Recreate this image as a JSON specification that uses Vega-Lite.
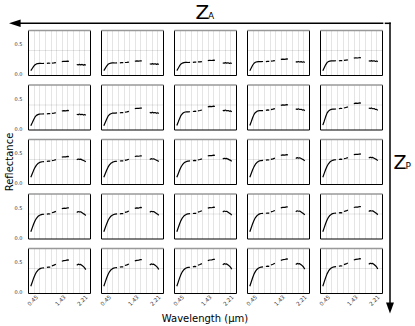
{
"$schema": "https://vega.github.io/schema/vega-lite/v6.json",
"padding": {"left": 4, "top": 3, "right": 2, "bottom": 2},
"spacing": 0,
"config": {
  "font": "DejaVu Sans",
  "view": {"stroke": null},
  "axis": {"labelColor": "#333", "titleColor": "black", "titleFontWeight": "normal"},
  "header": {"titleFontWeight": "normal", "titleFontSize": 10, "titleColor": "black"}
},
"hconcat": [
{
"spacing": 0,
"vconcat": [
{
  "width": 354.6, "height": 26.5,
  "layer": [
    {"data": {"values": [{"x0": -0.0353, "x1": 1.0, "y": 0.234}]},
     "mark": {"type": "rule", "strokeWidth": 1.5, "color": "black", "strokeCap": "square"},
     "encoding": {"x": {"field": "x0", "type": "quantitative", "scale": {"domain": [0, 1]}, "axis": null},
                  "x2": {"field": "x1"},
                  "y": {"field": "y", "type": "quantitative", "scale": {"domain": [0, 1]}, "axis": null}}},
    {"data": {"values": [{"x": -0.0372, "y": 0.234}]},
     "mark": {"type": "point", "shape": "M1,-0.65L1,0.65L-1,0Z", "filled": true, "color": "black", "size": 134, "opacity": 1, "strokeWidth": 0},
     "encoding": {"x": {"field": "x", "type": "quantitative"}, "y": {"field": "y", "type": "quantitative"}}},
    {"data": {"values": [{"x": 0.4724, "y": 0.396, "t": "Z"}]},
     "mark": {"type": "text", "fontSize": 20, "align": "left", "baseline": "alphabetic", "color": "black"},
     "encoding": {"x": {"field": "x", "type": "quantitative"}, "y": {"field": "y", "type": "quantitative"}, "text": {"field": "t"}}},
    {"data": {"values": [{"x": 0.5075, "y": 0.396, "t": "A"}]},
     "mark": {"type": "text", "fontSize": 9, "align": "left", "baseline": "alphabetic", "color": "black"},
     "encoding": {"x": {"field": "x", "type": "quantitative"}, "y": {"field": "y", "type": "quantitative"}, "text": {"field": "t"}}}
  ]
},
{
  "data": {"values": [
{"r":1,"c":1,"s":1,"w":0.4,"v":0.05},{"r":1,"c":1,"s":1,"w":0.45,"v":0.086},{"r":1,"c":1,"s":1,"w":0.5,"v":0.122},{"r":1,"c":1,"s":1,"w":0.55,"v":0.148},{"r":1,"c":1,"s":1,"w":0.6,"v":0.162},{"r":1,"c":1,"s":1,"w":0.65,"v":0.168},{"r":1,"c":1,"s":1,"w":0.7,"v":0.17},{"r":1,"c":1,"s":1,"w":0.75,"v":0.17},{"r":1,"c":1,"s":1,"w":0.8,"v":0.169},{"r":1,"c":1,"s":1,"w":0.87,"v":0.171},
{"r":1,"c":1,"s":2,"w":0.97,"v":0.172},{"r":1,"c":1,"s":2,"w":1.03,"v":0.175},{"r":1,"c":1,"s":2,"w":1.09,"v":0.173},
{"r":1,"c":1,"s":3,"w":1.15,"v":0.176},{"r":1,"c":1,"s":3,"w":1.22,"v":0.179},{"r":1,"c":1,"s":3,"w":1.29,"v":0.183},
{"r":1,"c":1,"s":4,"w":1.5,"v":0.201},{"r":1,"c":1,"s":4,"w":1.57,"v":0.206},{"r":1,"c":1,"s":4,"w":1.64,"v":0.203},{"r":1,"c":1,"s":4,"w":1.71,"v":0.208},{"r":1,"c":1,"s":4,"w":1.75,"v":0.205},
{"r":1,"c":1,"s":5,"w":2.03,"v":0.152},{"r":1,"c":1,"s":5,"w":2.08,"v":0.145},{"r":1,"c":1,"s":5,"w":2.12,"v":0.155},{"r":1,"c":1,"s":5,"w":2.17,"v":0.146},{"r":1,"c":1,"s":5,"w":2.22,"v":0.153},{"r":1,"c":1,"s":5,"w":2.27,"v":0.142},{"r":1,"c":1,"s":5,"w":2.31,"v":0.15},{"r":1,"c":1,"s":5,"w":2.35,"v":0.14},

{"r":1,"c":2,"s":1,"w":0.4,"v":0.05},{"r":1,"c":2,"s":1,"w":0.45,"v":0.088},{"r":1,"c":2,"s":1,"w":0.5,"v":0.127},{"r":1,"c":2,"s":1,"w":0.55,"v":0.155},{"r":1,"c":2,"s":1,"w":0.6,"v":0.169},{"r":1,"c":2,"s":1,"w":0.65,"v":0.175},{"r":1,"c":2,"s":1,"w":0.7,"v":0.178},{"r":1,"c":2,"s":1,"w":0.75,"v":0.178},{"r":1,"c":2,"s":1,"w":0.8,"v":0.177},{"r":1,"c":2,"s":1,"w":0.87,"v":0.18},
{"r":1,"c":2,"s":2,"w":0.97,"v":0.18},{"r":1,"c":2,"s":2,"w":1.03,"v":0.184},{"r":1,"c":2,"s":2,"w":1.09,"v":0.182},
{"r":1,"c":2,"s":3,"w":1.15,"v":0.185},{"r":1,"c":2,"s":3,"w":1.22,"v":0.188},{"r":1,"c":2,"s":3,"w":1.29,"v":0.192},
{"r":1,"c":2,"s":4,"w":1.5,"v":0.206},{"r":1,"c":2,"s":4,"w":1.57,"v":0.212},{"r":1,"c":2,"s":4,"w":1.64,"v":0.208},{"r":1,"c":2,"s":4,"w":1.71,"v":0.214},{"r":1,"c":2,"s":4,"w":1.75,"v":0.21},
{"r":1,"c":2,"s":5,"w":2.03,"v":0.164},{"r":1,"c":2,"s":5,"w":2.08,"v":0.157},{"r":1,"c":2,"s":5,"w":2.12,"v":0.167},{"r":1,"c":2,"s":5,"w":2.17,"v":0.158},{"r":1,"c":2,"s":5,"w":2.22,"v":0.165},{"r":1,"c":2,"s":5,"w":2.27,"v":0.154},{"r":1,"c":2,"s":5,"w":2.31,"v":0.162},{"r":1,"c":2,"s":5,"w":2.35,"v":0.152},

{"r":1,"c":3,"s":1,"w":0.4,"v":0.05},{"r":1,"c":3,"s":1,"w":0.45,"v":0.091},{"r":1,"c":3,"s":1,"w":0.5,"v":0.132},{"r":1,"c":3,"s":1,"w":0.55,"v":0.162},{"r":1,"c":3,"s":1,"w":0.6,"v":0.176},{"r":1,"c":3,"s":1,"w":0.65,"v":0.183},{"r":1,"c":3,"s":1,"w":0.7,"v":0.186},{"r":1,"c":3,"s":1,"w":0.75,"v":0.186},{"r":1,"c":3,"s":1,"w":0.8,"v":0.185},{"r":1,"c":3,"s":1,"w":0.87,"v":0.188},
{"r":1,"c":3,"s":2,"w":0.97,"v":0.188},{"r":1,"c":3,"s":2,"w":1.03,"v":0.192},{"r":1,"c":3,"s":2,"w":1.09,"v":0.19},
{"r":1,"c":3,"s":3,"w":1.15,"v":0.194},{"r":1,"c":3,"s":3,"w":1.22,"v":0.197},{"r":1,"c":3,"s":3,"w":1.29,"v":0.201},
{"r":1,"c":3,"s":4,"w":1.5,"v":0.216},{"r":1,"c":3,"s":4,"w":1.57,"v":0.222},{"r":1,"c":3,"s":4,"w":1.64,"v":0.218},{"r":1,"c":3,"s":4,"w":1.71,"v":0.224},{"r":1,"c":3,"s":4,"w":1.75,"v":0.22},
{"r":1,"c":3,"s":5,"w":2.03,"v":0.18},{"r":1,"c":3,"s":5,"w":2.08,"v":0.173},{"r":1,"c":3,"s":5,"w":2.12,"v":0.183},{"r":1,"c":3,"s":5,"w":2.17,"v":0.174},{"r":1,"c":3,"s":5,"w":2.22,"v":0.181},{"r":1,"c":3,"s":5,"w":2.27,"v":0.17},{"r":1,"c":3,"s":5,"w":2.31,"v":0.178},{"r":1,"c":3,"s":5,"w":2.35,"v":0.168},

{"r":1,"c":4,"s":1,"w":0.4,"v":0.05},{"r":1,"c":4,"s":1,"w":0.45,"v":0.095},{"r":1,"c":4,"s":1,"w":0.5,"v":0.14},{"r":1,"c":4,"s":1,"w":0.55,"v":0.173},{"r":1,"c":4,"s":1,"w":0.6,"v":0.19},{"r":1,"c":4,"s":1,"w":0.65,"v":0.197},{"r":1,"c":4,"s":1,"w":0.7,"v":0.2},{"r":1,"c":4,"s":1,"w":0.75,"v":0.2},{"r":1,"c":4,"s":1,"w":0.8,"v":0.199},{"r":1,"c":4,"s":1,"w":0.87,"v":0.202},
{"r":1,"c":4,"s":2,"w":0.97,"v":0.2},{"r":1,"c":4,"s":2,"w":1.03,"v":0.205},{"r":1,"c":4,"s":2,"w":1.09,"v":0.203},
{"r":1,"c":4,"s":3,"w":1.15,"v":0.207},{"r":1,"c":4,"s":3,"w":1.22,"v":0.211},{"r":1,"c":4,"s":3,"w":1.29,"v":0.216},
{"r":1,"c":4,"s":4,"w":1.5,"v":0.236},{"r":1,"c":4,"s":4,"w":1.57,"v":0.242},{"r":1,"c":4,"s":4,"w":1.64,"v":0.238},{"r":1,"c":4,"s":4,"w":1.71,"v":0.245},{"r":1,"c":4,"s":4,"w":1.75,"v":0.24},
{"r":1,"c":4,"s":5,"w":2.03,"v":0.2},{"r":1,"c":4,"s":5,"w":2.08,"v":0.192},{"r":1,"c":4,"s":5,"w":2.12,"v":0.202},{"r":1,"c":4,"s":5,"w":2.17,"v":0.193},{"r":1,"c":4,"s":5,"w":2.22,"v":0.2},{"r":1,"c":4,"s":5,"w":2.27,"v":0.189},{"r":1,"c":4,"s":5,"w":2.31,"v":0.197},{"r":1,"c":4,"s":5,"w":2.35,"v":0.186},

{"r":1,"c":5,"s":1,"w":0.4,"v":0.05},{"r":1,"c":5,"s":1,"w":0.45,"v":0.099},{"r":1,"c":5,"s":1,"w":0.5,"v":0.147},{"r":1,"c":5,"s":1,"w":0.55,"v":0.183},{"r":1,"c":5,"s":1,"w":0.6,"v":0.201},{"r":1,"c":5,"s":1,"w":0.65,"v":0.209},{"r":1,"c":5,"s":1,"w":0.7,"v":0.212},{"r":1,"c":5,"s":1,"w":0.75,"v":0.212},{"r":1,"c":5,"s":1,"w":0.8,"v":0.211},{"r":1,"c":5,"s":1,"w":0.87,"v":0.214},
{"r":1,"c":5,"s":2,"w":0.97,"v":0.213},{"r":1,"c":5,"s":2,"w":1.03,"v":0.218},{"r":1,"c":5,"s":2,"w":1.09,"v":0.216},
{"r":1,"c":5,"s":3,"w":1.15,"v":0.22},{"r":1,"c":5,"s":3,"w":1.22,"v":0.225},{"r":1,"c":5,"s":3,"w":1.29,"v":0.23},
{"r":1,"c":5,"s":4,"w":1.5,"v":0.257},{"r":1,"c":5,"s":4,"w":1.57,"v":0.264},{"r":1,"c":5,"s":4,"w":1.64,"v":0.26},{"r":1,"c":5,"s":4,"w":1.71,"v":0.268},{"r":1,"c":5,"s":4,"w":1.75,"v":0.262},
{"r":1,"c":5,"s":5,"w":2.03,"v":0.215},{"r":1,"c":5,"s":5,"w":2.08,"v":0.207},{"r":1,"c":5,"s":5,"w":2.12,"v":0.217},{"r":1,"c":5,"s":5,"w":2.17,"v":0.208},{"r":1,"c":5,"s":5,"w":2.22,"v":0.215},{"r":1,"c":5,"s":5,"w":2.27,"v":0.203},{"r":1,"c":5,"s":5,"w":2.31,"v":0.211},{"r":1,"c":5,"s":5,"w":2.35,"v":0.2},

{"r":2,"c":1,"s":1,"w":0.4,"v":0.04},{"r":2,"c":1,"s":1,"w":0.45,"v":0.089},{"r":2,"c":1,"s":1,"w":0.5,"v":0.141},{"r":2,"c":1,"s":1,"w":0.55,"v":0.186},{"r":2,"c":1,"s":1,"w":0.6,"v":0.212},{"r":2,"c":1,"s":1,"w":0.65,"v":0.225},{"r":2,"c":1,"s":1,"w":0.7,"v":0.233},{"r":2,"c":1,"s":1,"w":0.75,"v":0.235},{"r":2,"c":1,"s":1,"w":0.8,"v":0.235},{"r":2,"c":1,"s":1,"w":0.87,"v":0.237},
{"r":2,"c":1,"s":2,"w":0.97,"v":0.238},{"r":2,"c":1,"s":2,"w":1.03,"v":0.242},{"r":2,"c":1,"s":2,"w":1.09,"v":0.24},
{"r":2,"c":1,"s":3,"w":1.15,"v":0.245},{"r":2,"c":1,"s":3,"w":1.22,"v":0.25},{"r":2,"c":1,"s":3,"w":1.29,"v":0.256},
{"r":2,"c":1,"s":4,"w":1.5,"v":0.285},{"r":2,"c":1,"s":4,"w":1.57,"v":0.29},{"r":2,"c":1,"s":4,"w":1.64,"v":0.288},{"r":2,"c":1,"s":4,"w":1.71,"v":0.294},{"r":2,"c":1,"s":4,"w":1.75,"v":0.291},
{"r":2,"c":1,"s":5,"w":2.03,"v":0.232},{"r":2,"c":1,"s":5,"w":2.08,"v":0.222},{"r":2,"c":1,"s":5,"w":2.12,"v":0.234},{"r":2,"c":1,"s":5,"w":2.17,"v":0.224},{"r":2,"c":1,"s":5,"w":2.22,"v":0.23},{"r":2,"c":1,"s":5,"w":2.27,"v":0.218},{"r":2,"c":1,"s":5,"w":2.31,"v":0.226},{"r":2,"c":1,"s":5,"w":2.35,"v":0.214},

{"r":2,"c":2,"s":1,"w":0.4,"v":0.04},{"r":2,"c":2,"s":1,"w":0.45,"v":0.093},{"r":2,"c":2,"s":1,"w":0.5,"v":0.149},{"r":2,"c":2,"s":1,"w":0.55,"v":0.198},{"r":2,"c":2,"s":1,"w":0.6,"v":0.225},{"r":2,"c":2,"s":1,"w":0.65,"v":0.24},{"r":2,"c":2,"s":1,"w":0.7,"v":0.248},{"r":2,"c":2,"s":1,"w":0.75,"v":0.25},{"r":2,"c":2,"s":1,"w":0.8,"v":0.25},{"r":2,"c":2,"s":1,"w":0.87,"v":0.252},
{"r":2,"c":2,"s":2,"w":0.97,"v":0.255},{"r":2,"c":2,"s":2,"w":1.03,"v":0.26},{"r":2,"c":2,"s":2,"w":1.09,"v":0.258},
{"r":2,"c":2,"s":3,"w":1.15,"v":0.264},{"r":2,"c":2,"s":3,"w":1.22,"v":0.27},{"r":2,"c":2,"s":3,"w":1.29,"v":0.278},
{"r":2,"c":2,"s":4,"w":1.5,"v":0.324},{"r":2,"c":2,"s":4,"w":1.57,"v":0.33},{"r":2,"c":2,"s":4,"w":1.64,"v":0.327},{"r":2,"c":2,"s":4,"w":1.71,"v":0.335},{"r":2,"c":2,"s":4,"w":1.75,"v":0.331},
{"r":2,"c":2,"s":5,"w":2.03,"v":0.262},{"r":2,"c":2,"s":5,"w":2.08,"v":0.252},{"r":2,"c":2,"s":5,"w":2.12,"v":0.265},{"r":2,"c":2,"s":5,"w":2.17,"v":0.254},{"r":2,"c":2,"s":5,"w":2.22,"v":0.26},{"r":2,"c":2,"s":5,"w":2.27,"v":0.247},{"r":2,"c":2,"s":5,"w":2.31,"v":0.255},{"r":2,"c":2,"s":5,"w":2.35,"v":0.242},

{"r":2,"c":3,"s":1,"w":0.4,"v":0.045},{"r":2,"c":3,"s":1,"w":0.45,"v":0.101},{"r":2,"c":3,"s":1,"w":0.5,"v":0.162},{"r":2,"c":3,"s":1,"w":0.55,"v":0.214},{"r":2,"c":3,"s":1,"w":0.6,"v":0.243},{"r":2,"c":3,"s":1,"w":0.65,"v":0.259},{"r":2,"c":3,"s":1,"w":0.7,"v":0.268},{"r":2,"c":3,"s":1,"w":0.75,"v":0.27},{"r":2,"c":3,"s":1,"w":0.8,"v":0.27},{"r":2,"c":3,"s":1,"w":0.87,"v":0.272},
{"r":2,"c":3,"s":2,"w":0.97,"v":0.276},{"r":2,"c":3,"s":2,"w":1.03,"v":0.281},{"r":2,"c":3,"s":2,"w":1.09,"v":0.279},
{"r":2,"c":3,"s":3,"w":1.15,"v":0.286},{"r":2,"c":3,"s":3,"w":1.22,"v":0.293},{"r":2,"c":3,"s":3,"w":1.29,"v":0.301},
{"r":2,"c":3,"s":4,"w":1.5,"v":0.354},{"r":2,"c":3,"s":4,"w":1.57,"v":0.36},{"r":2,"c":3,"s":4,"w":1.64,"v":0.357},{"r":2,"c":3,"s":4,"w":1.71,"v":0.365},{"r":2,"c":3,"s":4,"w":1.75,"v":0.36},
{"r":2,"c":3,"s":5,"w":2.03,"v":0.298},{"r":2,"c":3,"s":5,"w":2.08,"v":0.287},{"r":2,"c":3,"s":5,"w":2.12,"v":0.3},{"r":2,"c":3,"s":5,"w":2.17,"v":0.288},{"r":2,"c":3,"s":5,"w":2.22,"v":0.293},{"r":2,"c":3,"s":5,"w":2.27,"v":0.28},{"r":2,"c":3,"s":5,"w":2.31,"v":0.286},{"r":2,"c":3,"s":5,"w":2.35,"v":0.272},

{"r":2,"c":4,"s":1,"w":0.4,"v":0.045},{"r":2,"c":4,"s":1,"w":0.45,"v":0.106},{"r":2,"c":4,"s":1,"w":0.5,"v":0.172},{"r":2,"c":4,"s":1,"w":0.55,"v":0.229},{"r":2,"c":4,"s":1,"w":0.6,"v":0.261},{"r":2,"c":4,"s":1,"w":0.65,"v":0.278},{"r":2,"c":4,"s":1,"w":0.7,"v":0.288},{"r":2,"c":4,"s":1,"w":0.75,"v":0.29},{"r":2,"c":4,"s":1,"w":0.8,"v":0.29},{"r":2,"c":4,"s":1,"w":0.87,"v":0.292},
{"r":2,"c":4,"s":2,"w":0.97,"v":0.296},{"r":2,"c":4,"s":2,"w":1.03,"v":0.302},{"r":2,"c":4,"s":2,"w":1.09,"v":0.3},
{"r":2,"c":4,"s":3,"w":1.15,"v":0.307},{"r":2,"c":4,"s":3,"w":1.22,"v":0.315},{"r":2,"c":4,"s":3,"w":1.29,"v":0.324},
{"r":2,"c":4,"s":4,"w":1.5,"v":0.378},{"r":2,"c":4,"s":4,"w":1.57,"v":0.385},{"r":2,"c":4,"s":4,"w":1.64,"v":0.382},{"r":2,"c":4,"s":4,"w":1.71,"v":0.39},{"r":2,"c":4,"s":4,"w":1.75,"v":0.386},
{"r":2,"c":4,"s":5,"w":2.03,"v":0.32},{"r":2,"c":4,"s":5,"w":2.08,"v":0.31},{"r":2,"c":4,"s":5,"w":2.12,"v":0.322},{"r":2,"c":4,"s":5,"w":2.17,"v":0.31},{"r":2,"c":4,"s":5,"w":2.22,"v":0.314},{"r":2,"c":4,"s":5,"w":2.27,"v":0.3},{"r":2,"c":4,"s":5,"w":2.31,"v":0.305},{"r":2,"c":4,"s":5,"w":2.35,"v":0.29},

{"r":2,"c":5,"s":1,"w":0.4,"v":0.05},{"r":2,"c":5,"s":1,"w":0.45,"v":0.116},{"r":2,"c":5,"s":1,"w":0.5,"v":0.188},{"r":2,"c":5,"s":1,"w":0.55,"v":0.249},{"r":2,"c":5,"s":1,"w":0.6,"v":0.283},{"r":2,"c":5,"s":1,"w":0.65,"v":0.302},{"r":2,"c":5,"s":1,"w":0.7,"v":0.312},{"r":2,"c":5,"s":1,"w":0.75,"v":0.315},{"r":2,"c":5,"s":1,"w":0.8,"v":0.315},{"r":2,"c":5,"s":1,"w":0.87,"v":0.318},
{"r":2,"c":5,"s":2,"w":0.97,"v":0.322},{"r":2,"c":5,"s":2,"w":1.03,"v":0.328},{"r":2,"c":5,"s":2,"w":1.09,"v":0.326},
{"r":2,"c":5,"s":3,"w":1.15,"v":0.334},{"r":2,"c":5,"s":3,"w":1.22,"v":0.343},{"r":2,"c":5,"s":3,"w":1.29,"v":0.352},
{"r":2,"c":5,"s":4,"w":1.5,"v":0.408},{"r":2,"c":5,"s":4,"w":1.57,"v":0.415},{"r":2,"c":5,"s":4,"w":1.64,"v":0.412},{"r":2,"c":5,"s":4,"w":1.71,"v":0.42},{"r":2,"c":5,"s":4,"w":1.75,"v":0.416},
{"r":2,"c":5,"s":5,"w":2.03,"v":0.335},{"r":2,"c":5,"s":5,"w":2.08,"v":0.325},{"r":2,"c":5,"s":5,"w":2.12,"v":0.336},{"r":2,"c":5,"s":5,"w":2.17,"v":0.322},{"r":2,"c":5,"s":5,"w":2.22,"v":0.325},{"r":2,"c":5,"s":5,"w":2.27,"v":0.31},{"r":2,"c":5,"s":5,"w":2.31,"v":0.312},{"r":2,"c":5,"s":5,"w":2.35,"v":0.295},

{"r":3,"c":1,"s":1,"w":0.4,"v":0.09},{"r":3,"c":1,"s":1,"w":0.45,"v":0.147},{"r":3,"c":1,"s":1,"w":0.5,"v":0.204},{"r":3,"c":1,"s":1,"w":0.55,"v":0.254},{"r":3,"c":1,"s":1,"w":0.6,"v":0.29},{"r":3,"c":1,"s":1,"w":0.65,"v":0.316},{"r":3,"c":1,"s":1,"w":0.7,"v":0.332},{"r":3,"c":1,"s":1,"w":0.75,"v":0.342},{"r":3,"c":1,"s":1,"w":0.8,"v":0.347},{"r":3,"c":1,"s":1,"w":0.87,"v":0.35},
{"r":3,"c":1,"s":2,"w":0.97,"v":0.354},{"r":3,"c":1,"s":2,"w":1.03,"v":0.358},{"r":3,"c":1,"s":2,"w":1.09,"v":0.356},
{"r":3,"c":1,"s":3,"w":1.15,"v":0.365},{"r":3,"c":1,"s":3,"w":1.22,"v":0.372},{"r":3,"c":1,"s":3,"w":1.29,"v":0.382},
{"r":3,"c":1,"s":4,"w":1.5,"v":0.424},{"r":3,"c":1,"s":4,"w":1.57,"v":0.43},{"r":3,"c":1,"s":4,"w":1.64,"v":0.428},{"r":3,"c":1,"s":4,"w":1.71,"v":0.436},{"r":3,"c":1,"s":4,"w":1.75,"v":0.432},
{"r":3,"c":1,"s":5,"w":2.03,"v":0.38},{"r":3,"c":1,"s":5,"w":2.08,"v":0.392},{"r":3,"c":1,"s":5,"w":2.12,"v":0.386},{"r":3,"c":1,"s":5,"w":2.17,"v":0.39},{"r":3,"c":1,"s":5,"w":2.22,"v":0.378},{"r":3,"c":1,"s":5,"w":2.27,"v":0.368},{"r":3,"c":1,"s":5,"w":2.31,"v":0.36},{"r":3,"c":1,"s":5,"w":2.35,"v":0.345},

{"r":3,"c":2,"s":1,"w":0.4,"v":0.09},{"r":3,"c":2,"s":1,"w":0.45,"v":0.148},{"r":3,"c":2,"s":1,"w":0.5,"v":0.207},{"r":3,"c":2,"s":1,"w":0.55,"v":0.257},{"r":3,"c":2,"s":1,"w":0.6,"v":0.294},{"r":3,"c":2,"s":1,"w":0.65,"v":0.321},{"r":3,"c":2,"s":1,"w":0.7,"v":0.336},{"r":3,"c":2,"s":1,"w":0.75,"v":0.347},{"r":3,"c":2,"s":1,"w":0.8,"v":0.352},{"r":3,"c":2,"s":1,"w":0.87,"v":0.355},
{"r":3,"c":2,"s":2,"w":0.97,"v":0.359},{"r":3,"c":2,"s":2,"w":1.03,"v":0.363},{"r":3,"c":2,"s":2,"w":1.09,"v":0.361},
{"r":3,"c":2,"s":3,"w":1.15,"v":0.37},{"r":3,"c":2,"s":3,"w":1.22,"v":0.378},{"r":3,"c":2,"s":3,"w":1.29,"v":0.389},
{"r":3,"c":2,"s":4,"w":1.5,"v":0.434},{"r":3,"c":2,"s":4,"w":1.57,"v":0.44},{"r":3,"c":2,"s":4,"w":1.64,"v":0.438},{"r":3,"c":2,"s":4,"w":1.71,"v":0.446},{"r":3,"c":2,"s":4,"w":1.75,"v":0.442},
{"r":3,"c":2,"s":5,"w":2.03,"v":0.385},{"r":3,"c":2,"s":5,"w":2.08,"v":0.398},{"r":3,"c":2,"s":5,"w":2.12,"v":0.392},{"r":3,"c":2,"s":5,"w":2.17,"v":0.396},{"r":3,"c":2,"s":5,"w":2.22,"v":0.384},{"r":3,"c":2,"s":5,"w":2.27,"v":0.373},{"r":3,"c":2,"s":5,"w":2.31,"v":0.364},{"r":3,"c":2,"s":5,"w":2.35,"v":0.35},

{"r":3,"c":3,"s":1,"w":0.4,"v":0.09},{"r":3,"c":3,"s":1,"w":0.45,"v":0.149},{"r":3,"c":3,"s":1,"w":0.5,"v":0.209},{"r":3,"c":3,"s":1,"w":0.55,"v":0.26},{"r":3,"c":3,"s":1,"w":0.6,"v":0.298},{"r":3,"c":3,"s":1,"w":0.65,"v":0.325},{"r":3,"c":3,"s":1,"w":0.7,"v":0.341},{"r":3,"c":3,"s":1,"w":0.75,"v":0.352},{"r":3,"c":3,"s":1,"w":0.8,"v":0.357},{"r":3,"c":3,"s":1,"w":0.87,"v":0.36},
{"r":3,"c":3,"s":2,"w":0.97,"v":0.364},{"r":3,"c":3,"s":2,"w":1.03,"v":0.369},{"r":3,"c":3,"s":2,"w":1.09,"v":0.366},
{"r":3,"c":3,"s":3,"w":1.15,"v":0.376},{"r":3,"c":3,"s":3,"w":1.22,"v":0.384},{"r":3,"c":3,"s":3,"w":1.29,"v":0.395},
{"r":3,"c":3,"s":4,"w":1.5,"v":0.444},{"r":3,"c":3,"s":4,"w":1.57,"v":0.45},{"r":3,"c":3,"s":4,"w":1.64,"v":0.448},{"r":3,"c":3,"s":4,"w":1.71,"v":0.456},{"r":3,"c":3,"s":4,"w":1.75,"v":0.452},
{"r":3,"c":3,"s":5,"w":2.03,"v":0.392},{"r":3,"c":3,"s":5,"w":2.08,"v":0.405},{"r":3,"c":3,"s":5,"w":2.12,"v":0.398},{"r":3,"c":3,"s":5,"w":2.17,"v":0.402},{"r":3,"c":3,"s":5,"w":2.22,"v":0.39},{"r":3,"c":3,"s":5,"w":2.27,"v":0.378},{"r":3,"c":3,"s":5,"w":2.31,"v":0.369},{"r":3,"c":3,"s":5,"w":2.35,"v":0.354},

{"r":3,"c":4,"s":1,"w":0.4,"v":0.09},{"r":3,"c":4,"s":1,"w":0.45,"v":0.152},{"r":3,"c":4,"s":1,"w":0.5,"v":0.213},{"r":3,"c":4,"s":1,"w":0.55,"v":0.266},{"r":3,"c":4,"s":1,"w":0.6,"v":0.306},{"r":3,"c":4,"s":1,"w":0.65,"v":0.334},{"r":3,"c":4,"s":1,"w":0.7,"v":0.35},{"r":3,"c":4,"s":1,"w":0.75,"v":0.362},{"r":3,"c":4,"s":1,"w":0.8,"v":0.367},{"r":3,"c":4,"s":1,"w":0.87,"v":0.37},
{"r":3,"c":4,"s":2,"w":0.97,"v":0.374},{"r":3,"c":4,"s":2,"w":1.03,"v":0.379},{"r":3,"c":4,"s":2,"w":1.09,"v":0.376},
{"r":3,"c":4,"s":3,"w":1.15,"v":0.386},{"r":3,"c":4,"s":3,"w":1.22,"v":0.395},{"r":3,"c":4,"s":3,"w":1.29,"v":0.406},
{"r":3,"c":4,"s":4,"w":1.5,"v":0.454},{"r":3,"c":4,"s":4,"w":1.57,"v":0.46},{"r":3,"c":4,"s":4,"w":1.64,"v":0.458},{"r":3,"c":4,"s":4,"w":1.71,"v":0.466},{"r":3,"c":4,"s":4,"w":1.75,"v":0.462},
{"r":3,"c":4,"s":5,"w":2.03,"v":0.402},{"r":3,"c":4,"s":5,"w":2.08,"v":0.415},{"r":3,"c":4,"s":5,"w":2.12,"v":0.408},{"r":3,"c":4,"s":5,"w":2.17,"v":0.412},{"r":3,"c":4,"s":5,"w":2.22,"v":0.4},{"r":3,"c":4,"s":5,"w":2.27,"v":0.388},{"r":3,"c":4,"s":5,"w":2.31,"v":0.378},{"r":3,"c":4,"s":5,"w":2.35,"v":0.362},

{"r":3,"c":5,"s":1,"w":0.4,"v":0.09},{"r":3,"c":5,"s":1,"w":0.45,"v":0.154},{"r":3,"c":5,"s":1,"w":0.5,"v":0.218},{"r":3,"c":5,"s":1,"w":0.55,"v":0.273},{"r":3,"c":5,"s":1,"w":0.6,"v":0.313},{"r":3,"c":5,"s":1,"w":0.65,"v":0.342},{"r":3,"c":5,"s":1,"w":0.7,"v":0.36},{"r":3,"c":5,"s":1,"w":0.75,"v":0.371},{"r":3,"c":5,"s":1,"w":0.8,"v":0.377},{"r":3,"c":5,"s":1,"w":0.87,"v":0.38},
{"r":3,"c":5,"s":2,"w":0.97,"v":0.384},{"r":3,"c":5,"s":2,"w":1.03,"v":0.389},{"r":3,"c":5,"s":2,"w":1.09,"v":0.386},
{"r":3,"c":5,"s":3,"w":1.15,"v":0.396},{"r":3,"c":5,"s":3,"w":1.22,"v":0.405},{"r":3,"c":5,"s":3,"w":1.29,"v":0.416},
{"r":3,"c":5,"s":4,"w":1.5,"v":0.464},{"r":3,"c":5,"s":4,"w":1.57,"v":0.47},{"r":3,"c":5,"s":4,"w":1.64,"v":0.468},{"r":3,"c":5,"s":4,"w":1.71,"v":0.476},{"r":3,"c":5,"s":4,"w":1.75,"v":0.472},
{"r":3,"c":5,"s":5,"w":2.03,"v":0.408},{"r":3,"c":5,"s":5,"w":2.08,"v":0.422},{"r":3,"c":5,"s":5,"w":2.12,"v":0.415},{"r":3,"c":5,"s":5,"w":2.17,"v":0.418},{"r":3,"c":5,"s":5,"w":2.22,"v":0.405},{"r":3,"c":5,"s":5,"w":2.27,"v":0.392},{"r":3,"c":5,"s":5,"w":2.31,"v":0.382},{"r":3,"c":5,"s":5,"w":2.35,"v":0.366},

{"r":4,"c":1,"s":1,"w":0.4,"v":0.09},{"r":4,"c":1,"s":1,"w":0.45,"v":0.154},{"r":4,"c":1,"s":1,"w":0.5,"v":0.218},{"r":4,"c":1,"s":1,"w":0.55,"v":0.273},{"r":4,"c":1,"s":1,"w":0.6,"v":0.313},{"r":4,"c":1,"s":1,"w":0.65,"v":0.342},{"r":4,"c":1,"s":1,"w":0.7,"v":0.36},{"r":4,"c":1,"s":1,"w":0.75,"v":0.371},{"r":4,"c":1,"s":1,"w":0.8,"v":0.377},{"r":4,"c":1,"s":1,"w":0.87,"v":0.38},
{"r":4,"c":1,"s":2,"w":0.97,"v":0.382},{"r":4,"c":1,"s":2,"w":1.03,"v":0.386},{"r":4,"c":1,"s":2,"w":1.09,"v":0.384},
{"r":4,"c":1,"s":3,"w":1.15,"v":0.405},{"r":4,"c":1,"s":3,"w":1.22,"v":0.415},{"r":4,"c":1,"s":3,"w":1.29,"v":0.428},
{"r":4,"c":1,"s":4,"w":1.5,"v":0.472},{"r":4,"c":1,"s":4,"w":1.57,"v":0.48},{"r":4,"c":1,"s":4,"w":1.64,"v":0.478},{"r":4,"c":1,"s":4,"w":1.71,"v":0.488},{"r":4,"c":1,"s":4,"w":1.75,"v":0.485},
{"r":4,"c":1,"s":5,"w":2.03,"v":0.41},{"r":4,"c":1,"s":5,"w":2.08,"v":0.425},{"r":4,"c":1,"s":5,"w":2.12,"v":0.418},{"r":4,"c":1,"s":5,"w":2.17,"v":0.42},{"r":4,"c":1,"s":5,"w":2.22,"v":0.405},{"r":4,"c":1,"s":5,"w":2.27,"v":0.39},{"r":4,"c":1,"s":5,"w":2.31,"v":0.378},{"r":4,"c":1,"s":5,"w":2.35,"v":0.36},

{"r":4,"c":2,"s":1,"w":0.4,"v":0.09},{"r":4,"c":2,"s":1,"w":0.45,"v":0.155},{"r":4,"c":2,"s":1,"w":0.5,"v":0.22},{"r":4,"c":2,"s":1,"w":0.55,"v":0.276},{"r":4,"c":2,"s":1,"w":0.6,"v":0.317},{"r":4,"c":2,"s":1,"w":0.65,"v":0.347},{"r":4,"c":2,"s":1,"w":0.7,"v":0.364},{"r":4,"c":2,"s":1,"w":0.75,"v":0.376},{"r":4,"c":2,"s":1,"w":0.8,"v":0.382},{"r":4,"c":2,"s":1,"w":0.87,"v":0.385},
{"r":4,"c":2,"s":2,"w":0.97,"v":0.387},{"r":4,"c":2,"s":2,"w":1.03,"v":0.391},{"r":4,"c":2,"s":2,"w":1.09,"v":0.389},
{"r":4,"c":2,"s":3,"w":1.15,"v":0.41},{"r":4,"c":2,"s":3,"w":1.22,"v":0.42},{"r":4,"c":2,"s":3,"w":1.29,"v":0.433},
{"r":4,"c":2,"s":4,"w":1.5,"v":0.477},{"r":4,"c":2,"s":4,"w":1.57,"v":0.485},{"r":4,"c":2,"s":4,"w":1.64,"v":0.483},{"r":4,"c":2,"s":4,"w":1.71,"v":0.493},{"r":4,"c":2,"s":4,"w":1.75,"v":0.49},
{"r":4,"c":2,"s":5,"w":2.03,"v":0.414},{"r":4,"c":2,"s":5,"w":2.08,"v":0.429},{"r":4,"c":2,"s":5,"w":2.12,"v":0.422},{"r":4,"c":2,"s":5,"w":2.17,"v":0.424},{"r":4,"c":2,"s":5,"w":2.22,"v":0.409},{"r":4,"c":2,"s":5,"w":2.27,"v":0.394},{"r":4,"c":2,"s":5,"w":2.31,"v":0.381},{"r":4,"c":2,"s":5,"w":2.35,"v":0.363},

{"r":4,"c":3,"s":1,"w":0.4,"v":0.09},{"r":4,"c":3,"s":1,"w":0.45,"v":0.156},{"r":4,"c":3,"s":1,"w":0.5,"v":0.222},{"r":4,"c":3,"s":1,"w":0.55,"v":0.279},{"r":4,"c":3,"s":1,"w":0.6,"v":0.321},{"r":4,"c":3,"s":1,"w":0.65,"v":0.351},{"r":4,"c":3,"s":1,"w":0.7,"v":0.369},{"r":4,"c":3,"s":1,"w":0.75,"v":0.381},{"r":4,"c":3,"s":1,"w":0.8,"v":0.387},{"r":4,"c":3,"s":1,"w":0.87,"v":0.39},
{"r":4,"c":3,"s":2,"w":0.97,"v":0.392},{"r":4,"c":3,"s":2,"w":1.03,"v":0.396},{"r":4,"c":3,"s":2,"w":1.09,"v":0.394},
{"r":4,"c":3,"s":3,"w":1.15,"v":0.415},{"r":4,"c":3,"s":3,"w":1.22,"v":0.425},{"r":4,"c":3,"s":3,"w":1.29,"v":0.438},
{"r":4,"c":3,"s":4,"w":1.5,"v":0.482},{"r":4,"c":3,"s":4,"w":1.57,"v":0.49},{"r":4,"c":3,"s":4,"w":1.64,"v":0.488},{"r":4,"c":3,"s":4,"w":1.71,"v":0.498},{"r":4,"c":3,"s":4,"w":1.75,"v":0.495},
{"r":4,"c":3,"s":5,"w":2.03,"v":0.418},{"r":4,"c":3,"s":5,"w":2.08,"v":0.433},{"r":4,"c":3,"s":5,"w":2.12,"v":0.426},{"r":4,"c":3,"s":5,"w":2.17,"v":0.428},{"r":4,"c":3,"s":5,"w":2.22,"v":0.413},{"r":4,"c":3,"s":5,"w":2.27,"v":0.398},{"r":4,"c":3,"s":5,"w":2.31,"v":0.385},{"r":4,"c":3,"s":5,"w":2.35,"v":0.366},

{"r":4,"c":4,"s":1,"w":0.4,"v":0.09},{"r":4,"c":4,"s":1,"w":0.45,"v":0.157},{"r":4,"c":4,"s":1,"w":0.5,"v":0.224},{"r":4,"c":4,"s":1,"w":0.55,"v":0.282},{"r":4,"c":4,"s":1,"w":0.6,"v":0.325},{"r":4,"c":4,"s":1,"w":0.65,"v":0.355},{"r":4,"c":4,"s":1,"w":0.7,"v":0.374},{"r":4,"c":4,"s":1,"w":0.75,"v":0.386},{"r":4,"c":4,"s":1,"w":0.8,"v":0.392},{"r":4,"c":4,"s":1,"w":0.87,"v":0.395},
{"r":4,"c":4,"s":2,"w":0.97,"v":0.397},{"r":4,"c":4,"s":2,"w":1.03,"v":0.401},{"r":4,"c":4,"s":2,"w":1.09,"v":0.399},
{"r":4,"c":4,"s":3,"w":1.15,"v":0.42},{"r":4,"c":4,"s":3,"w":1.22,"v":0.43},{"r":4,"c":4,"s":3,"w":1.29,"v":0.443},
{"r":4,"c":4,"s":4,"w":1.5,"v":0.487},{"r":4,"c":4,"s":4,"w":1.57,"v":0.495},{"r":4,"c":4,"s":4,"w":1.64,"v":0.493},{"r":4,"c":4,"s":4,"w":1.71,"v":0.503},{"r":4,"c":4,"s":4,"w":1.75,"v":0.5},
{"r":4,"c":4,"s":5,"w":2.03,"v":0.422},{"r":4,"c":4,"s":5,"w":2.08,"v":0.437},{"r":4,"c":4,"s":5,"w":2.12,"v":0.43},{"r":4,"c":4,"s":5,"w":2.17,"v":0.432},{"r":4,"c":4,"s":5,"w":2.22,"v":0.417},{"r":4,"c":4,"s":5,"w":2.27,"v":0.402},{"r":4,"c":4,"s":5,"w":2.31,"v":0.388},{"r":4,"c":4,"s":5,"w":2.35,"v":0.369},

{"r":4,"c":5,"s":1,"w":0.4,"v":0.09},{"r":4,"c":5,"s":1,"w":0.45,"v":0.158},{"r":4,"c":5,"s":1,"w":0.5,"v":0.226},{"r":4,"c":5,"s":1,"w":0.55,"v":0.285},{"r":4,"c":5,"s":1,"w":0.6,"v":0.329},{"r":4,"c":5,"s":1,"w":0.65,"v":0.36},{"r":4,"c":5,"s":1,"w":0.7,"v":0.378},{"r":4,"c":5,"s":1,"w":0.75,"v":0.391},{"r":4,"c":5,"s":1,"w":0.8,"v":0.397},{"r":4,"c":5,"s":1,"w":0.87,"v":0.4},
{"r":4,"c":5,"s":2,"w":0.97,"v":0.402},{"r":4,"c":5,"s":2,"w":1.03,"v":0.406},{"r":4,"c":5,"s":2,"w":1.09,"v":0.404},
{"r":4,"c":5,"s":3,"w":1.15,"v":0.425},{"r":4,"c":5,"s":3,"w":1.22,"v":0.435},{"r":4,"c":5,"s":3,"w":1.29,"v":0.448},
{"r":4,"c":5,"s":4,"w":1.5,"v":0.492},{"r":4,"c":5,"s":4,"w":1.57,"v":0.5},{"r":4,"c":5,"s":4,"w":1.64,"v":0.498},{"r":4,"c":5,"s":4,"w":1.71,"v":0.508},{"r":4,"c":5,"s":4,"w":1.75,"v":0.505},
{"r":4,"c":5,"s":5,"w":2.03,"v":0.426},{"r":4,"c":5,"s":5,"w":2.08,"v":0.441},{"r":4,"c":5,"s":5,"w":2.12,"v":0.434},{"r":4,"c":5,"s":5,"w":2.17,"v":0.436},{"r":4,"c":5,"s":5,"w":2.22,"v":0.421},{"r":4,"c":5,"s":5,"w":2.27,"v":0.406},{"r":4,"c":5,"s":5,"w":2.31,"v":0.392},{"r":4,"c":5,"s":5,"w":2.35,"v":0.372},

{"r":5,"c":1,"s":1,"w":0.4,"v":0.09},{"r":5,"c":1,"s":1,"w":0.45,"v":0.157},{"r":5,"c":1,"s":1,"w":0.5,"v":0.224},{"r":5,"c":1,"s":1,"w":0.55,"v":0.282},{"r":5,"c":1,"s":1,"w":0.6,"v":0.325},{"r":5,"c":1,"s":1,"w":0.65,"v":0.355},{"r":5,"c":1,"s":1,"w":0.7,"v":0.374},{"r":5,"c":1,"s":1,"w":0.75,"v":0.386},{"r":5,"c":1,"s":1,"w":0.8,"v":0.392},{"r":5,"c":1,"s":1,"w":0.87,"v":0.395},
{"r":5,"c":1,"s":2,"w":0.97,"v":0.402},{"r":5,"c":1,"s":2,"w":1.03,"v":0.408},{"r":5,"c":1,"s":2,"w":1.09,"v":0.406},
{"r":5,"c":1,"s":3,"w":1.15,"v":0.428},{"r":5,"c":1,"s":3,"w":1.22,"v":0.44},{"r":5,"c":1,"s":3,"w":1.29,"v":0.455},
{"r":5,"c":1,"s":4,"w":1.5,"v":0.505},{"r":5,"c":1,"s":4,"w":1.57,"v":0.515},{"r":5,"c":1,"s":4,"w":1.64,"v":0.518},{"r":5,"c":1,"s":4,"w":1.71,"v":0.528},{"r":5,"c":1,"s":4,"w":1.75,"v":0.524},
{"r":5,"c":1,"s":5,"w":2.03,"v":0.44},{"r":5,"c":1,"s":5,"w":2.08,"v":0.456},{"r":5,"c":1,"s":5,"w":2.12,"v":0.45},{"r":5,"c":1,"s":5,"w":2.17,"v":0.452},{"r":5,"c":1,"s":5,"w":2.22,"v":0.435},{"r":5,"c":1,"s":5,"w":2.27,"v":0.415},{"r":5,"c":1,"s":5,"w":2.31,"v":0.395},{"r":5,"c":1,"s":5,"w":2.35,"v":0.365},

{"r":5,"c":2,"s":1,"w":0.4,"v":0.09},{"r":5,"c":2,"s":1,"w":0.45,"v":0.158},{"r":5,"c":2,"s":1,"w":0.5,"v":0.226},{"r":5,"c":2,"s":1,"w":0.55,"v":0.285},{"r":5,"c":2,"s":1,"w":0.6,"v":0.329},{"r":5,"c":2,"s":1,"w":0.65,"v":0.36},{"r":5,"c":2,"s":1,"w":0.7,"v":0.378},{"r":5,"c":2,"s":1,"w":0.75,"v":0.391},{"r":5,"c":2,"s":1,"w":0.8,"v":0.397},{"r":5,"c":2,"s":1,"w":0.87,"v":0.4},
{"r":5,"c":2,"s":2,"w":0.97,"v":0.407},{"r":5,"c":2,"s":2,"w":1.03,"v":0.413},{"r":5,"c":2,"s":2,"w":1.09,"v":0.411},
{"r":5,"c":2,"s":3,"w":1.15,"v":0.433},{"r":5,"c":2,"s":3,"w":1.22,"v":0.445},{"r":5,"c":2,"s":3,"w":1.29,"v":0.46},
{"r":5,"c":2,"s":4,"w":1.5,"v":0.51},{"r":5,"c":2,"s":4,"w":1.57,"v":0.52},{"r":5,"c":2,"s":4,"w":1.64,"v":0.523},{"r":5,"c":2,"s":4,"w":1.71,"v":0.533},{"r":5,"c":2,"s":4,"w":1.75,"v":0.529},
{"r":5,"c":2,"s":5,"w":2.03,"v":0.444},{"r":5,"c":2,"s":5,"w":2.08,"v":0.46},{"r":5,"c":2,"s":5,"w":2.12,"v":0.454},{"r":5,"c":2,"s":5,"w":2.17,"v":0.456},{"r":5,"c":2,"s":5,"w":2.22,"v":0.439},{"r":5,"c":2,"s":5,"w":2.27,"v":0.419},{"r":5,"c":2,"s":5,"w":2.31,"v":0.398},{"r":5,"c":2,"s":5,"w":2.35,"v":0.368},

{"r":5,"c":3,"s":1,"w":0.4,"v":0.09},{"r":5,"c":3,"s":1,"w":0.45,"v":0.159},{"r":5,"c":3,"s":1,"w":0.5,"v":0.229},{"r":5,"c":3,"s":1,"w":0.55,"v":0.288},{"r":5,"c":3,"s":1,"w":0.6,"v":0.333},{"r":5,"c":3,"s":1,"w":0.65,"v":0.364},{"r":5,"c":3,"s":1,"w":0.7,"v":0.383},{"r":5,"c":3,"s":1,"w":0.75,"v":0.396},{"r":5,"c":3,"s":1,"w":0.8,"v":0.402},{"r":5,"c":3,"s":1,"w":0.87,"v":0.405},
{"r":5,"c":3,"s":2,"w":0.97,"v":0.412},{"r":5,"c":3,"s":2,"w":1.03,"v":0.418},{"r":5,"c":3,"s":2,"w":1.09,"v":0.416},
{"r":5,"c":3,"s":3,"w":1.15,"v":0.438},{"r":5,"c":3,"s":3,"w":1.22,"v":0.45},{"r":5,"c":3,"s":3,"w":1.29,"v":0.465},
{"r":5,"c":3,"s":4,"w":1.5,"v":0.515},{"r":5,"c":3,"s":4,"w":1.57,"v":0.525},{"r":5,"c":3,"s":4,"w":1.64,"v":0.528},{"r":5,"c":3,"s":4,"w":1.71,"v":0.538},{"r":5,"c":3,"s":4,"w":1.75,"v":0.534},
{"r":5,"c":3,"s":5,"w":2.03,"v":0.448},{"r":5,"c":3,"s":5,"w":2.08,"v":0.464},{"r":5,"c":3,"s":5,"w":2.12,"v":0.458},{"r":5,"c":3,"s":5,"w":2.17,"v":0.46},{"r":5,"c":3,"s":5,"w":2.22,"v":0.443},{"r":5,"c":3,"s":5,"w":2.27,"v":0.423},{"r":5,"c":3,"s":5,"w":2.31,"v":0.402},{"r":5,"c":3,"s":5,"w":2.35,"v":0.371},

{"r":5,"c":4,"s":1,"w":0.4,"v":0.09},{"r":5,"c":4,"s":1,"w":0.45,"v":0.16},{"r":5,"c":4,"s":1,"w":0.5,"v":0.231},{"r":5,"c":4,"s":1,"w":0.55,"v":0.292},{"r":5,"c":4,"s":1,"w":0.6,"v":0.336},{"r":5,"c":4,"s":1,"w":0.65,"v":0.368},{"r":5,"c":4,"s":1,"w":0.7,"v":0.388},{"r":5,"c":4,"s":1,"w":0.75,"v":0.4},{"r":5,"c":4,"s":1,"w":0.8,"v":0.407},{"r":5,"c":4,"s":1,"w":0.87,"v":0.41},
{"r":5,"c":4,"s":2,"w":0.97,"v":0.417},{"r":5,"c":4,"s":2,"w":1.03,"v":0.423},{"r":5,"c":4,"s":2,"w":1.09,"v":0.421},
{"r":5,"c":4,"s":3,"w":1.15,"v":0.443},{"r":5,"c":4,"s":3,"w":1.22,"v":0.455},{"r":5,"c":4,"s":3,"w":1.29,"v":0.47},
{"r":5,"c":4,"s":4,"w":1.5,"v":0.52},{"r":5,"c":4,"s":4,"w":1.57,"v":0.53},{"r":5,"c":4,"s":4,"w":1.64,"v":0.533},{"r":5,"c":4,"s":4,"w":1.71,"v":0.543},{"r":5,"c":4,"s":4,"w":1.75,"v":0.539},
{"r":5,"c":4,"s":5,"w":2.03,"v":0.452},{"r":5,"c":4,"s":5,"w":2.08,"v":0.468},{"r":5,"c":4,"s":5,"w":2.12,"v":0.462},{"r":5,"c":4,"s":5,"w":2.17,"v":0.464},{"r":5,"c":4,"s":5,"w":2.22,"v":0.447},{"r":5,"c":4,"s":5,"w":2.27,"v":0.427},{"r":5,"c":4,"s":5,"w":2.31,"v":0.405},{"r":5,"c":4,"s":5,"w":2.35,"v":0.374},

{"r":5,"c":5,"s":1,"w":0.4,"v":0.09},{"r":5,"c":5,"s":1,"w":0.45,"v":0.162},{"r":5,"c":5,"s":1,"w":0.5,"v":0.233},{"r":5,"c":5,"s":1,"w":0.55,"v":0.295},{"r":5,"c":5,"s":1,"w":0.6,"v":0.34},{"r":5,"c":5,"s":1,"w":0.65,"v":0.373},{"r":5,"c":5,"s":1,"w":0.7,"v":0.392},{"r":5,"c":5,"s":1,"w":0.75,"v":0.405},{"r":5,"c":5,"s":1,"w":0.8,"v":0.412},{"r":5,"c":5,"s":1,"w":0.87,"v":0.415},
{"r":5,"c":5,"s":2,"w":0.97,"v":0.422},{"r":5,"c":5,"s":2,"w":1.03,"v":0.428},{"r":5,"c":5,"s":2,"w":1.09,"v":0.426},
{"r":5,"c":5,"s":3,"w":1.15,"v":0.448},{"r":5,"c":5,"s":3,"w":1.22,"v":0.46},{"r":5,"c":5,"s":3,"w":1.29,"v":0.475},
{"r":5,"c":5,"s":4,"w":1.5,"v":0.525},{"r":5,"c":5,"s":4,"w":1.57,"v":0.535},{"r":5,"c":5,"s":4,"w":1.64,"v":0.538},{"r":5,"c":5,"s":4,"w":1.71,"v":0.548},{"r":5,"c":5,"s":4,"w":1.75,"v":0.544},
{"r":5,"c":5,"s":5,"w":2.03,"v":0.456},{"r":5,"c":5,"s":5,"w":2.08,"v":0.472},{"r":5,"c":5,"s":5,"w":2.12,"v":0.466},{"r":5,"c":5,"s":5,"w":2.17,"v":0.468},{"r":5,"c":5,"s":5,"w":2.22,"v":0.451},{"r":5,"c":5,"s":5,"w":2.27,"v":0.431},{"r":5,"c":5,"s":5,"w":2.31,"v":0.409},{"r":5,"c":5,"s":5,"w":2.35,"v":0.377}
  ]},
  "facet": {
    "row": {"field": "r", "type": "ordinal", "title": "Reflectance", "header": {"labels": false, "labelPadding": 0, "titlePadding": -11}},
    "column": {"field": "c", "type": "ordinal", "title": "Wavelength (μm)", "header": {"labels": false, "titleOrient": "bottom", "labelOrient": "bottom", "labelPadding": 0, "titlePadding": -3.5}}
  },
  "spacing": {"row": 9.5, "column": 11},
  "spec": {
    "width": 62, "height": 45,
    "mark": {"type": "line", "color": "black", "strokeWidth": 1.2, "strokeJoin": "round"},
    "encoding": {
      "x": {"field": "w", "type": "quantitative",
            "scale": {"domain": [0.3, 2.5], "nice": false, "zero": false},
            "axis": {"title": null, "minExtent": 0,
                     "values": [0.3, 0.45, 0.5, 0.7, 0.9, 1.1, 1.3, 1.43, 1.5, 1.7, 1.9, 2.1, 2.21, 2.3, 2.5],
                     "labelExpr": "datum.value == 0.45 ? '0.45' : datum.value == 1.43 ? '1.43' : datum.value == 2.21 ? '2.21' : ''",
                     "labelAngle": -45, "labelAlign": "center", "labelBaseline": "middle", "labelPadding": 7,
                     "labelFontSize": {"condition": {"test": "datum.value == 0.45 || datum.value == 1.43 || datum.value == 2.21", "value": 5.5}, "value": 0},
                     "labelFlush": false, "labelOverlap": false,
                     "ticks": false, "domain": false,
                     "gridColor": "black", "gridWidth": 1,
                     "gridOpacity": {"condition": {"test": "datum.value < 0.31 || datum.value > 2.49", "value": 1}, "value": 0.1},
                     "gridDash": {"condition": {"test": "datum.value == 0.45 || datum.value == 1.43 || datum.value == 2.21", "value": [0, 1000]}, "value": []}}},
      "y": {"field": "v", "type": "quantitative",
            "scale": {"domain": [-0.022, 0.724], "nice": false, "zero": false},
            "axis": {"title": null, "minExtent": 0,
                     "values": [-0.022, 0, 0.4, 0.5, 0.724],
                     "labelExpr": "datum.value == 0 ? '0.0' : datum.value == 0.5 ? '0.5' : ''",
                     "labelFontSize": {"condition": {"test": "datum.value == 0 || datum.value == 0.5", "value": 5}, "value": 0},
                     "labelPadding": 6, "labelFlush": false, "labelOverlap": false,
                     "ticks": false, "domain": false,
                     "gridColor": {"condition": {"test": "datum.value > 0.7", "value": "#999999"}, "value": "black"},
                     "gridWidth": {"condition": {"test": "datum.value > 0.7", "value": 1.7}, "value": 1.1},
                     "gridOpacity": {"condition": {"test": "datum.value > 0.3 && datum.value < 0.45", "value": 0.1}, "value": 1},
                     "gridDash": {"condition": {"test": "datum.value == 0 || datum.value == 0.5", "value": [0, 1000]}, "value": []}}},
      "detail": {"field": "s", "type": "nominal"}
    }
  }
}
]
},
{
  "width": 20, "height": 310,
  "layer": [
    {"data": {"values": [{"x0": -0.225, "x1": 0, "y": 0.9345}]},
     "mark": {"type": "rule", "strokeWidth": 1.5, "color": "black", "strokeCap": "square"},
     "encoding": {"x": {"field": "x0", "type": "quantitative", "scale": {"domain": [0, 1]}, "axis": null},
                  "x2": {"field": "x1"},
                  "y": {"field": "y", "type": "quantitative", "scale": {"domain": [0, 1]}, "axis": null}}},
    {"data": {"values": [{"x": 0, "y0": 0.03, "y1": 0.9345}]},
     "mark": {"type": "rule", "strokeWidth": 1.5, "color": "black", "strokeCap": "square"},
     "encoding": {"x": {"field": "x", "type": "quantitative"},
                  "y": {"field": "y0", "type": "quantitative"},
                  "y2": {"field": "y1"}}},
    {"data": {"values": [{"x": 0, "y": 0.0161}]},
     "mark": {"type": "point", "shape": "M-0.72,-1L0.72,-1L0,1Z", "filled": true, "color": "black", "size": 121, "opacity": 1, "strokeWidth": 0},
     "encoding": {"x": {"field": "x", "type": "quantitative"}, "y": {"field": "y", "type": "quantitative"}}},
    {"data": {"values": [{"x": 0.17, "y": 0.4645, "t": "Z"}]},
     "mark": {"type": "text", "fontSize": 19, "align": "left", "baseline": "alphabetic", "color": "black"},
     "encoding": {"x": {"field": "x", "type": "quantitative"}, "y": {"field": "y", "type": "quantitative"}, "text": {"field": "t"}}},
    {"data": {"values": [{"x": 0.775, "y": 0.4645, "t": "P"}]},
     "mark": {"type": "text", "fontSize": 9, "align": "left", "baseline": "alphabetic", "color": "black"},
     "encoding": {"x": {"field": "x", "type": "quantitative"}, "y": {"field": "y", "type": "quantitative"}, "text": {"field": "t"}}}
  ]
}
]
}
